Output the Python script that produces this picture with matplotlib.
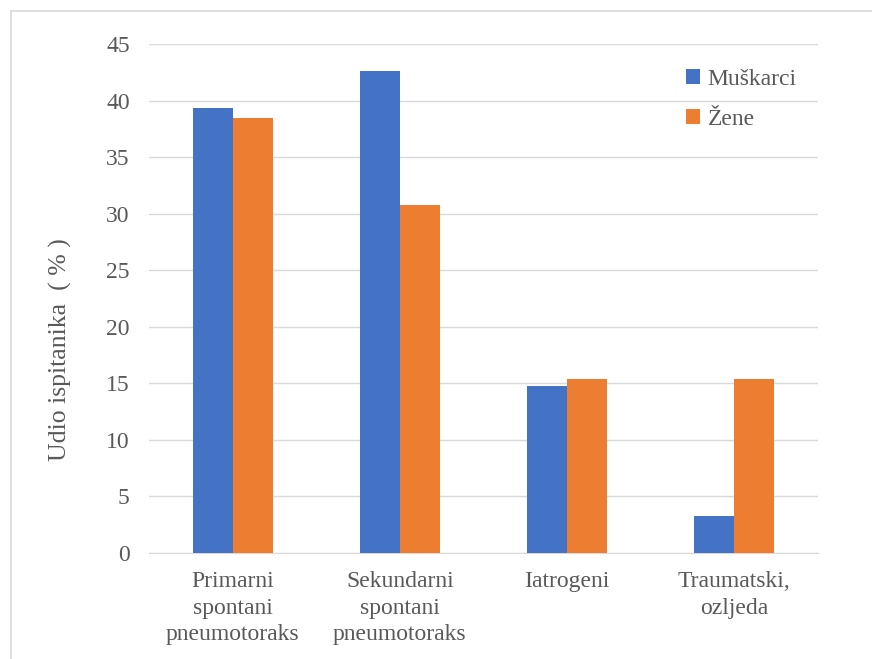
import numpy as np
import matplotlib
matplotlib.use("Agg")
import matplotlib.pyplot as plt
from matplotlib.lines import Line2D

categories = ["Primarni\nspontani\npneumotoraks", "Sekundarni\nspontani\npneumotoraks",
              "Iatrogeni", "Traumatski,\nozljeda"]
muskarci = [39.3, 42.6, 14.8, 3.3]
zene = [38.5, 30.8, 15.4, 15.4]
yticks = list(range(0, 50, 5))

plt.rcParams["font.family"] = ["Liberation Serif", "DejaVu Serif"]
txt = "#595959"

fig = plt.figure(figsize=(8.72, 6.59), dpi=100)
ax = fig.add_axes([0.171, 0.1609, 0.767, 0.7723])

x = np.arange(len(categories))
w = 0.24
ax.bar(x - w/2, muskarci, w, color="#4472C4", label="Muškarci", zorder=3)
ax.bar(x + w/2, zene, w, color="#ED7D31", label="Žene", zorder=3)

ax.set_xlim(-0.5, len(categories) - 0.5)
ax.set_ylim(0, 45)
ax.set_yticks(yticks)
ax.set_xticks(x)
ax.set_xticklabels(categories, fontsize=17, color=txt, linespacing=1.35)
ax.tick_params(axis="y", labelsize=17, labelcolor=txt, length=0, pad=14)
ax.tick_params(axis="x", length=0, pad=13)
ax.grid(axis="y", color="#d9d9d9", linewidth=1, zorder=0)
for s in ["top", "right", "left"]:
    ax.spines[s].set_visible(False)
ax.spines["bottom"].set_color("#d9d9d9")
ax.set_ylabel("Udio ispitanika  ( % )", fontsize=18.5, color=txt)
ax.yaxis.set_label_coords(-0.115, 0.399)

leg = ax.legend(loc="upper right", bbox_to_anchor=(1.0, 0.993), frameon=False,
                fontsize=17, labelcolor=txt, handlelength=0.6, handleheight=0.6,
                handletextpad=0.3, labelspacing=0.8)

# outer frame: top and left edges only
fig.add_artist(Line2D([11/872, 1], [1 - 11/659, 1 - 11/659], transform=fig.transFigure,
                      color="#d9d9d9", linewidth=1.2))
fig.add_artist(Line2D([11/872, 11/872], [0, 1 - 11/659], transform=fig.transFigure,
                      color="#d9d9d9", linewidth=1.2))

fig.savefig("out.png", dpi=100)
